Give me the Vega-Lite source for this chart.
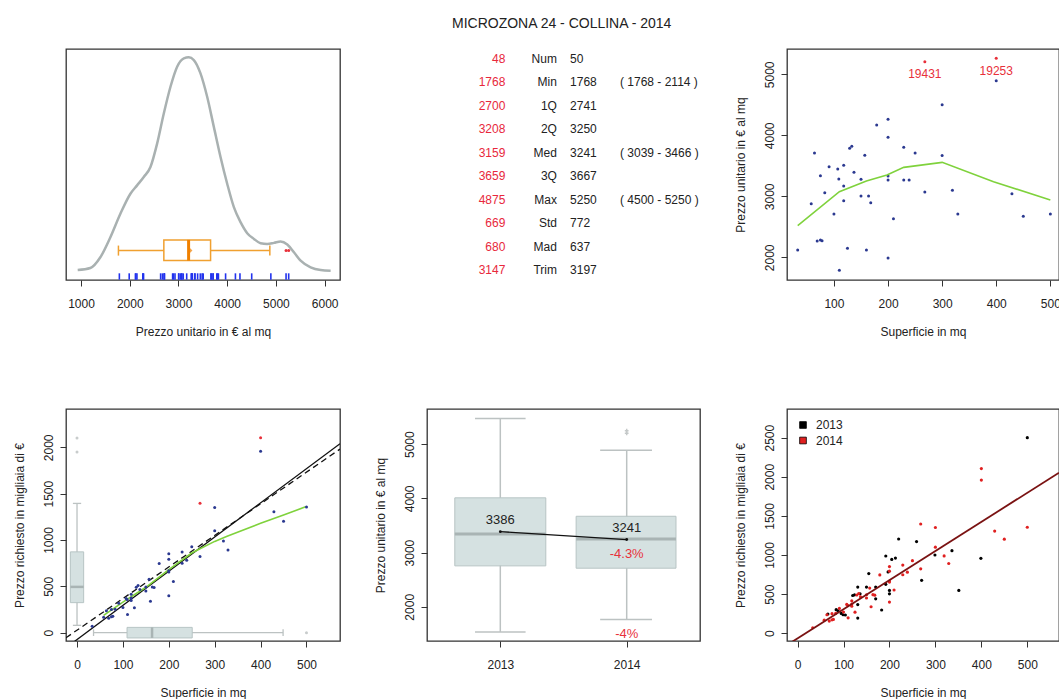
{
  "$schema": "https://vega.github.io/schema/vega-lite/v6.json",
  "background": "white",
  "padding": {"left": 12, "top": 17, "right": 0, "bottom": 0},
  "title": {"text": "MICROZONA 24 - COLLINA - 2014", "fontSize": 14, "fontWeight": "normal", "font": "Liberation Sans", "color": "#222", "anchor": "middle", "frame": "bounds", "dx": 25, "offset": 17},
  "datasets": {
    "pts14": [
      {"s": 33, "u": 2120, "t": 70, "out": "n"},
      {"s": 58, "u": 2880, "t": 167, "out": "n"},
      {"s": 64, "u": 3710, "t": 237, "out": "n"},
      {"s": 69, "u": 2268, "t": 156, "out": "n"},
      {"s": 75, "u": 2284, "t": 171, "out": "n"},
      {"s": 78, "u": 2273, "t": 177, "out": "n"},
      {"s": 75, "u": 3339, "t": 250, "out": "n"},
      {"s": 83, "u": 3060, "t": 254, "out": "n"},
      {"s": 91, "u": 3486, "t": 317, "out": "n"},
      {"s": 100, "u": 2710, "t": 271, "out": "n"},
      {"s": 107, "u": 3448, "t": 369, "out": "n"},
      {"s": 109, "u": 3284, "t": 358, "out": "n"},
      {"s": 110, "u": 1787, "t": 197, "out": "n"},
      {"s": 118, "u": 3508, "t": 414, "out": "n"},
      {"s": 118, "u": 3169, "t": 374, "out": "n"},
      {"s": 118, "u": 2929, "t": 346, "out": "n"},
      {"s": 125, "u": 2148, "t": 269, "out": "n"},
      {"s": 129, "u": 3787, "t": 489, "out": "n"},
      {"s": 133, "u": 3820, "t": 508, "out": "n"},
      {"s": 137, "u": 3393, "t": 465, "out": "n"},
      {"s": 150, "u": 3279, "t": 492, "out": "n"},
      {"s": 150, "u": 3005, "t": 451, "out": "n"},
      {"s": 157, "u": 3672, "t": 577, "out": "n"},
      {"s": 160, "u": 2120, "t": 339, "out": "n"},
      {"s": 164, "u": 3005, "t": 493, "out": "n"},
      {"s": 168, "u": 2896, "t": 487, "out": "n"},
      {"s": 179, "u": 4169, "t": 746, "out": "n"},
      {"s": 200, "u": 4262, "t": 852, "out": "n"},
      {"s": 200, "u": 3967, "t": 793, "out": "n"},
      {"s": 200, "u": 3333, "t": 667, "out": "n"},
      {"s": 200, "u": 3268, "t": 654, "out": "n"},
      {"s": 200, "u": 1989, "t": 398, "out": "n"},
      {"s": 210, "u": 2634, "t": 553, "out": "n"},
      {"s": 229, "u": 3803, "t": 871, "out": "n"},
      {"s": 229, "u": 3268, "t": 748, "out": "n"},
      {"s": 239, "u": 3268, "t": 781, "out": "n"},
      {"s": 250, "u": 3710, "t": 928, "out": "n"},
      {"s": 268, "u": 5208, "t": 1396, "out": "y", "id": "19431"},
      {"s": 268, "u": 3071, "t": 823, "out": "n"},
      {"s": 300, "u": 4503, "t": 1351, "out": "n"},
      {"s": 300, "u": 3667, "t": 1100, "out": "n"},
      {"s": 319, "u": 3098, "t": 988, "out": "n"},
      {"s": 329, "u": 2710, "t": 892, "out": "n"},
      {"s": 400, "u": 5262, "t": 2105, "out": "y", "id": "19253"},
      {"s": 400, "u": 4896, "t": 1958, "out": "n"},
      {"s": 429, "u": 3044, "t": 1306, "out": "n"},
      {"s": 450, "u": 2672, "t": 1202, "out": "n"},
      {"s": 500, "u": 2710, "t": 1355, "out": "n"}
    ],
    "pts13": [
      {"s": 66, "t": 246}, {"s": 84, "t": 301}, {"s": 88, "t": 288}, {"s": 95, "t": 254},
      {"s": 99, "t": 237}, {"s": 104, "t": 233}, {"s": 120, "t": 482}, {"s": 124, "t": 491},
      {"s": 131, "t": 590}, {"s": 131, "t": 366}, {"s": 131, "t": 194}, {"s": 136, "t": 504},
      {"s": 150, "t": 590}, {"s": 155, "t": 763}, {"s": 170, "t": 590}, {"s": 170, "t": 440},
      {"s": 183, "t": 297}, {"s": 192, "t": 987}, {"s": 192, "t": 625}, {"s": 197, "t": 784},
      {"s": 200, "t": 547}, {"s": 200, "t": 504}, {"s": 205, "t": 944}, {"s": 213, "t": 961},
      {"s": 220, "t": 1205}, {"s": 259, "t": 1172}, {"s": 270, "t": 676}, {"s": 299, "t": 1000},
      {"s": 336, "t": 1056}, {"s": 351, "t": 547}, {"s": 399, "t": 957}, {"s": 500, "t": 2500}
    ]
  },
  "columns": 3,
  "spacing": {"row": 129, "column": 87},
  "bounds": "flush",
  "align": "each",
  "resolve": {"scale": {"color": "independent"}, "legend": {"color": "independent"}},
  "concat": [
    {
      "width": 274,
      "height": 231,
      "layer": [
        {
          "data": {"values": [
            {"p": 932, "d": 2}, {"p": 1192, "d": 8}, {"p": 1397, "d": 40}, {"p": 1603, "d": 100},
            {"p": 1808, "d": 170}, {"p": 2014, "d": 230}, {"p": 2151, "d": 255}, {"p": 2288, "d": 280},
            {"p": 2425, "d": 310}, {"p": 2562, "d": 380}, {"p": 2699, "d": 470}, {"p": 2836, "d": 550},
            {"p": 2973, "d": 610}, {"p": 3110, "d": 635}, {"p": 3212, "d": 638}, {"p": 3315, "d": 630},
            {"p": 3452, "d": 590}, {"p": 3589, "d": 520}, {"p": 3726, "d": 430}, {"p": 3863, "d": 340},
            {"p": 4000, "d": 260}, {"p": 4137, "d": 190}, {"p": 4274, "d": 145}, {"p": 4411, "d": 112},
            {"p": 4548, "d": 95}, {"p": 4685, "d": 82}, {"p": 4822, "d": 80}, {"p": 4959, "d": 83},
            {"p": 5096, "d": 87}, {"p": 5233, "d": 78}, {"p": 5370, "d": 55}, {"p": 5507, "d": 30},
            {"p": 5712, "d": 10}, {"p": 5918, "d": 2}, {"p": 6123, "d": 0}
          ]},
          "mark": {"type": "line", "color": "#a9b1b1", "strokeWidth": 2.5, "interpolate": "monotone"},
          "encoding": {
            "x": {"field": "p", "type": "quantitative", "scale": {"domain": [692, 6315], "nice": false, "zero": false},
                  "axis": {"values": [1000, 2000, 3000, 4000, 5000, 6000], "format": "d", "title": "Prezzo unitario in € al mq"}},
            "y": {"field": "d", "type": "quantitative", "scale": {"domain": [-28, 663], "nice": false, "zero": false}, "axis": null}
          }
        },
        {
          "mark": {"type": "rule", "color": "#c2c6c6", "strokeWidth": 1},
          "encoding": {"y": {"datum": 0}}
        },
        {
          "data": {"name": "pts14"},
          "mark": {"type": "rule", "color": "#2233ee", "strokeWidth": 1.6},
          "encoding": {"x": {"field": "u", "type": "quantitative"}, "y": {"datum": -27}, "y2": {"datum": -8}}
        },
        {
          "data": {"values": [{"lo": 1768, "q1": 2700, "med": 3208, "q3": 3659, "hi": 4875, "mean": 3241}]},
          "layer": [
            {"mark": {"type": "rule", "color": "#f0a030", "strokeWidth": 1.5}, "encoding": {"x": {"field": "lo", "type": "quantitative"}, "x2": {"field": "q1"}, "y": {"datum": 60}}},
            {"mark": {"type": "rule", "color": "#f0a030", "strokeWidth": 1.5}, "encoding": {"x": {"field": "q3", "type": "quantitative"}, "x2": {"field": "hi"}, "y": {"datum": 60}}},
            {"mark": {"type": "rule", "color": "#f0a030", "strokeWidth": 1.5}, "encoding": {"x": {"field": "lo", "type": "quantitative"}, "y": {"datum": 45}, "y2": {"datum": 75}}},
            {"mark": {"type": "rule", "color": "#f0a030", "strokeWidth": 1.5}, "encoding": {"x": {"field": "hi", "type": "quantitative"}, "y": {"datum": 45}, "y2": {"datum": 75}}},
            {"mark": {"type": "rect", "fill": "transparent", "stroke": "#f0a030", "strokeWidth": 1.5}, "encoding": {"x": {"field": "q1", "type": "quantitative"}, "x2": {"field": "q3"}, "y": {"datum": 30}, "y2": {"datum": 92}}},
            {"mark": {"type": "rule", "color": "#f08000", "strokeWidth": 3}, "encoding": {"x": {"field": "med", "type": "quantitative"}, "y": {"datum": 30}, "y2": {"datum": 92}}},
            {"mark": {"type": "point", "filled": true, "color": "#f08000", "size": 20, "shape": "diamond"}, "encoding": {"x": {"field": "mean", "type": "quantitative"}, "y": {"datum": 60}}}
          ]
        },
        {
          "data": {"name": "pts14"},
          "transform": [{"filter": "datum.out == 'y'"}],
          "mark": {"type": "point", "filled": true, "color": "#e8303a", "size": 9, "opacity": 1},
          "encoding": {"x": {"field": "u", "type": "quantitative"}, "y": {"datum": 60}}
        }
      ]
    },
    {
      "width": 273,
      "height": 231,
      "view": {"stroke": null},
      "data": {"values": [
        {"k": "Num", "a": "48", "b": "50", "c": ""},
        {"k": "Min", "a": "1768", "b": "1768", "c": "( 1768 - 2114 )"},
        {"k": "1Q", "a": "2700", "b": "2741", "c": ""},
        {"k": "2Q", "a": "3208", "b": "3250", "c": ""},
        {"k": "Med", "a": "3159", "b": "3241", "c": "( 3039 - 3466 )"},
        {"k": "3Q", "a": "3659", "b": "3667", "c": ""},
        {"k": "Max", "a": "4875", "b": "5250", "c": "( 4500 - 5250 )"},
        {"k": "Std", "a": "669", "b": "772", "c": ""},
        {"k": "Mad", "a": "680", "b": "637", "c": ""},
        {"k": "Trim", "a": "3147", "b": "3197", "c": ""}
      ]},
      "encoding": {
        "y": {"field": "k", "type": "nominal", "sort": null, "scale": {"type": "point", "padding": 0.415}, "axis": null}
      },
      "layer": [
        {"mark": {"type": "text", "align": "right", "baseline": "middle", "fontSize": 12, "color": "#e8283c"},
         "encoding": {"x": {"datum": 0.287, "type": "quantitative", "scale": {"domain": [0, 1], "nice": false, "zero": false}, "axis": null}, "text": {"field": "a"}}},
        {"mark": {"type": "text", "align": "right", "baseline": "middle", "fontSize": 12, "color": "#222"},
         "encoding": {"x": {"datum": 0.476, "type": "quantitative"}, "text": {"field": "k"}}},
        {"mark": {"type": "text", "align": "left", "baseline": "middle", "fontSize": 12, "color": "#222"},
         "encoding": {"x": {"datum": 0.524, "type": "quantitative"}, "text": {"field": "b"}}},
        {"mark": {"type": "text", "align": "left", "baseline": "middle", "fontSize": 12, "color": "#222"},
         "encoding": {"x": {"datum": 0.707, "type": "quantitative"}, "text": {"field": "c"}}}
      ]
    },
    {
      "width": 272,
      "height": 231,
      "layer": [
        {
          "data": {"name": "pts14"},
          "transform": [{"filter": "datum.out == 'n'"}],
          "mark": {"type": "point", "filled": true, "color": "#2b3990", "size": 9, "opacity": 1},
          "encoding": {
            "x": {"field": "s", "type": "quantitative", "scale": {"domain": [13.2, 516], "nice": false, "zero": false},
                  "axis": {"values": [100, 200, 300, 400, 500], "format": "d", "title": "Superficie in mq"}},
            "y": {"field": "u", "type": "quantitative", "scale": {"domain": [1628, 5415], "nice": false, "zero": false},
                  "axis": {"values": [2000, 2500, 3000, 3500, 4000, 4500, 5000], "format": "d", "labelExpr": "datum.value % 1000 == 0 ? datum.label : ''", "title": "Prezzo unitario in € al mq"}}
          }
        },
        {
          "mark": {"type": "rule", "color": "#222", "strokeWidth": 1.2},
          "encoding": {"y": {"datum": 3250}}
        },
        {
          "data": {"values": [
            {"s": 33, "u": 2519}, {"s": 110, "u": 3076}, {"s": 160, "u": 3251}, {"s": 198, "u": 3350},
            {"s": 229, "u": 3475}, {"s": 300, "u": 3557}, {"s": 395, "u": 3240}, {"s": 500, "u": 2940}
          ]},
          "mark": {"type": "line", "color": "#7fd23c", "strokeWidth": 1.6},
          "encoding": {"x": {"field": "s", "type": "quantitative"}, "y": {"field": "u", "type": "quantitative"}}
        },
        {
          "data": {"name": "pts14"},
          "transform": [{"filter": "datum.out == 'y'"}],
          "layer": [
            {"mark": {"type": "point", "filled": true, "color": "#e8303a", "size": 9, "opacity": 1},
             "encoding": {"x": {"field": "s", "type": "quantitative"}, "y": {"field": "u", "type": "quantitative"}}},
            {"mark": {"type": "text", "color": "#e8303a", "fontSize": 12, "baseline": "middle", "dy": 12.5},
             "encoding": {"x": {"field": "s", "type": "quantitative"}, "y": {"field": "u", "type": "quantitative"}, "text": {"field": "id"}}}
          ]
        }
      ]
    },
    {
      "width": 274,
      "height": 232,
      "layer": [
        {
          "data": {"values": [{"lo": 79, "q1": 324, "med": 494, "q3": 872, "hi": 1395, "bl": -14.5, "br": 14.5, "cl": -9, "cr": 9}]},
          "layer": [
            {"mark": {"type": "rule", "color": "#bcc2c2", "strokeWidth": 1.3},
             "encoding": {"x": {"datum": 0, "type": "quantitative", "scale": {"domain": [-24, 573], "nice": false, "zero": false},
                                "axis": {"values": [0, 100, 200, 300, 400, 500], "format": "d", "title": "Superficie in mq"}},
                          "y": {"field": "lo", "type": "quantitative", "scale": {"domain": [-90, 2414], "nice": false, "zero": false},
                                "axis": {"values": [0, 500, 1000, 1500, 2000], "format": "d", "title": "Prezzo richiesto in migliaia di €"}},
                          "y2": {"field": "hi"}}},
            {"mark": {"type": "rule", "color": "#bcc2c2", "strokeWidth": 1.3},
             "encoding": {"x": {"field": "cl", "type": "quantitative"}, "x2": {"field": "cr"}, "y": {"field": "lo", "type": "quantitative"}}},
            {"mark": {"type": "rule", "color": "#bcc2c2", "strokeWidth": 1.3},
             "encoding": {"x": {"field": "cl", "type": "quantitative"}, "x2": {"field": "cr"}, "y": {"field": "hi", "type": "quantitative"}}},
            {"mark": {"type": "rect", "fill": "#d5e1e1", "stroke": "#b7c4c4", "strokeWidth": 1},
             "encoding": {"x": {"field": "bl", "type": "quantitative"}, "x2": {"field": "br"}, "y": {"field": "q1", "type": "quantitative"}, "y2": {"field": "q3"}}},
            {"mark": {"type": "rule", "color": "#a9b4b4", "strokeWidth": 2.5},
             "encoding": {"x": {"field": "bl", "type": "quantitative"}, "x2": {"field": "br"}, "y": {"field": "med", "type": "quantitative"}}}
          ]
        },
        {
          "data": {"values": [{"lo": 36, "q1": 109, "med": 163.5, "q3": 251, "hi": 449, "bb": -57, "bt": 57, "cb": -36, "ct": 36}]},
          "layer": [
            {"mark": {"type": "rule", "color": "#bcc2c2", "strokeWidth": 1.3},
             "encoding": {"x": {"field": "lo", "type": "quantitative"}, "x2": {"field": "hi"}, "y": {"datum": 0}}},
            {"mark": {"type": "rule", "color": "#bcc2c2", "strokeWidth": 1.3},
             "encoding": {"x": {"field": "lo", "type": "quantitative"}, "y": {"field": "cb", "type": "quantitative"}, "y2": {"field": "ct"}}},
            {"mark": {"type": "rule", "color": "#bcc2c2", "strokeWidth": 1.3},
             "encoding": {"x": {"field": "hi", "type": "quantitative"}, "y": {"field": "cb", "type": "quantitative"}, "y2": {"field": "ct"}}},
            {"mark": {"type": "rect", "fill": "#d5e1e1", "stroke": "#b7c4c4", "strokeWidth": 1},
             "encoding": {"x": {"field": "q1", "type": "quantitative"}, "x2": {"field": "q3"}, "y": {"field": "bb", "type": "quantitative"}, "y2": {"field": "bt"}}},
            {"mark": {"type": "rule", "color": "#a9b4b4", "strokeWidth": 2.5},
             "encoding": {"x": {"field": "med", "type": "quantitative"}, "y": {"field": "bb", "type": "quantitative"}, "y2": {"field": "bt"}}}
          ]
        },
        {
          "data": {"values": [{"s": 0, "t": 2100}, {"s": 0, "t": 1950}, {"s": 500, "t": 0}]},
          "mark": {"type": "point", "filled": true, "color": "#c8cccc", "size": 9, "opacity": 1},
          "encoding": {"x": {"field": "s", "type": "quantitative"}, "y": {"field": "t", "type": "quantitative"}}
        },
        {
          "data": {"values": [{"s": -24, "t": -163}, {"s": 573, "t": 2040}]},
          "mark": {"type": "line", "color": "#111", "strokeWidth": 1.3, "clip": true},
          "encoding": {"x": {"field": "s", "type": "quantitative"}, "y": {"field": "t", "type": "quantitative"}}
        },
        {
          "data": {"values": [{"s": -24, "t": -55}, {"s": 573, "t": 1981}]},
          "mark": {"type": "line", "color": "#111", "strokeWidth": 1.3, "strokeDash": [6, 4], "clip": true},
          "encoding": {"x": {"field": "s", "type": "quantitative"}, "y": {"field": "t", "type": "quantitative"}}
        },
        {
          "data": {"values": [
            {"s": 58, "t": 187}, {"s": 100, "t": 330}, {"s": 150, "t": 490}, {"s": 200, "t": 680},
            {"s": 250, "t": 860}, {"s": 269, "t": 908}, {"s": 300, "t": 985}, {"s": 327, "t": 1041},
            {"s": 400, "t": 1180}, {"s": 450, "t": 1270}, {"s": 498, "t": 1358}
          ]},
          "mark": {"type": "line", "color": "#7fd23c", "strokeWidth": 1.6},
          "encoding": {"x": {"field": "s", "type": "quantitative"}, "y": {"field": "t", "type": "quantitative"}}
        },
        {
          "data": {"name": "pts14"},
          "transform": [{"filter": "datum.out == 'n'"}],
          "mark": {"type": "point", "filled": true, "size": 9, "opacity": 1, "color": "#2b3990"},
          "encoding": {"x": {"field": "s", "type": "quantitative"}, "y": {"field": "t", "type": "quantitative"}}
        },
        {
          "data": {"name": "pts14"},
          "transform": [{"filter": "datum.out == 'y'"}],
          "mark": {"type": "point", "filled": true, "size": 9, "opacity": 1, "color": "#e8303a"},
          "encoding": {"x": {"field": "s", "type": "quantitative"}, "y": {"field": "t", "type": "quantitative"}}
        }
      ]
    },
    {
      "width": 273,
      "height": 232,
      "layer": [
        {
          "data": {"values": [
            {"yr": 1, "lo": 1537, "q1": 2755, "med": 3343, "q3": 4010, "hi": 5476, "bl": 0.64, "br": 1.36, "cl": 0.8, "cr": 1.2},
            {"yr": 2, "lo": 1766, "q1": 2712, "med": 3250, "q3": 3670, "hi": 4889, "bl": 1.6, "br": 2.39, "cl": 1.79, "cr": 2.2}
          ]},
          "layer": [
            {"mark": {"type": "rule", "color": "#bcc2c2", "strokeWidth": 1.5},
             "encoding": {"x": {"field": "yr", "type": "quantitative", "scale": {"domain": [0.42, 2.58], "nice": false, "zero": false},
                                "axis": {"values": [1, 2], "labelExpr": "datum.value == 1 ? '2013' : '2014'", "title": null}},
                          "y": {"field": "lo", "type": "quantitative", "scale": {"domain": [1369, 5649], "nice": false, "zero": false},
                                "axis": {"values": [2000, 3000, 4000, 5000], "format": "d", "title": "Prezzo unitario in € al mq"}},
                          "y2": {"field": "hi"}}},
            {"mark": {"type": "rule", "color": "#bcc2c2", "strokeWidth": 1.5},
             "encoding": {"x": {"field": "cl", "type": "quantitative"}, "x2": {"field": "cr"}, "y": {"field": "lo", "type": "quantitative"}}},
            {"mark": {"type": "rule", "color": "#bcc2c2", "strokeWidth": 1.5},
             "encoding": {"x": {"field": "cl", "type": "quantitative"}, "x2": {"field": "cr"}, "y": {"field": "hi", "type": "quantitative"}}},
            {"mark": {"type": "rect", "fill": "#d5e1e1", "stroke": "#b7c4c4", "strokeWidth": 1},
             "encoding": {"x": {"field": "bl", "type": "quantitative"}, "x2": {"field": "br"}, "y": {"field": "q1", "type": "quantitative"}, "y2": {"field": "q3"}}},
            {"mark": {"type": "rule", "color": "#a9b4b4", "strokeWidth": 3},
             "encoding": {"x": {"field": "bl", "type": "quantitative"}, "x2": {"field": "br"}, "y": {"field": "med", "type": "quantitative"}}}
          ]
        },
        {
          "data": {"values": [{"yr": 2, "v": 5200}, {"yr": 2, "v": 5250}]},
          "mark": {"type": "point", "shape": "cross", "filled": true, "color": "#c4c8c8", "size": 14, "opacity": 1},
          "encoding": {"x": {"field": "yr", "type": "quantitative"}, "y": {"field": "v", "type": "quantitative"}}
        },
        {
          "data": {"values": [{"yr": 1, "m": 3386, "lab": "3386", "pct": ""}, {"yr": 2, "m": 3241, "lab": "3241", "pct": "-4.3%"}]},
          "layer": [
            {"mark": {"type": "line", "color": "#111", "strokeWidth": 1.3, "point": {"filled": true, "color": "#111", "size": 8}},
             "encoding": {"x": {"field": "yr", "type": "quantitative"}, "y": {"field": "m", "type": "quantitative"}}},
            {"mark": {"type": "text", "color": "#222", "fontSize": 13, "baseline": "middle", "dy": -12},
             "encoding": {"x": {"field": "yr", "type": "quantitative"}, "y": {"field": "m", "type": "quantitative"}, "text": {"field": "lab"}}},
            {"mark": {"type": "text", "color": "#e8303a", "fontSize": 13, "baseline": "middle", "dy": 14},
             "encoding": {"x": {"field": "yr", "type": "quantitative"}, "y": {"field": "m", "type": "quantitative"}, "text": {"field": "pct"}}}
          ]
        },
        {
          "data": {"values": [{"yr": 2, "v": 1494, "lab": "-4%"}]},
          "mark": {"type": "text", "color": "#e8303a", "fontSize": 13, "baseline": "middle"},
          "encoding": {"x": {"field": "yr", "type": "quantitative"}, "y": {"field": "v", "type": "quantitative"}, "text": {"field": "lab"}}
        }
      ]
    },
    {
      "width": 272,
      "height": 232,
      "layer": [
        {
          "data": {"name": "pts13"},
          "mark": {"type": "point", "filled": true, "size": 10, "opacity": 1},
          "encoding": {
            "x": {"field": "s", "type": "quantitative", "scale": {"domain": [-23, 569], "nice": false, "zero": false},
                  "axis": {"values": [0, 100, 200, 300, 400, 500], "format": "d", "title": "Superficie in mq"}},
            "y": {"field": "t", "type": "quantitative", "scale": {"domain": [-99, 2866], "nice": false, "zero": false},
                  "axis": {"values": [0, 500, 1000, 1500, 2000, 2500], "format": "d", "title": "Prezzo richiesto in migliaia di €"}},
            "color": {"datum": "2013", "type": "nominal", "scale": {"domain": ["2013", "2014"], "range": ["#000000", "#e02020"]},
                      "legend": {"orient": "top-left", "offset": 10, "title": null, "symbolType": "square", "symbolSize": 45,
                                 "symbolStrokeColor": "#000", "symbolStrokeWidth": 0.8, "labelFontSize": 12, "labelColor": "#222",
                                 "labelOffset": 7, "rowPadding": 3.5, "padding": 0}}
          }
        },
        {
          "data": {"name": "pts14"},
          "mark": {"type": "point", "filled": true, "size": 10, "opacity": 1},
          "encoding": {
            "x": {"field": "s", "type": "quantitative"},
            "y": {"field": "t", "type": "quantitative"},
            "color": {"datum": "2014", "type": "nominal"}
          }
        },
        {
          "data": {"values": [{"s": -23, "t": -151}, {"s": 569, "t": 2052}]},
          "mark": {"type": "line", "color": "#7a1212", "strokeWidth": 1.8, "clip": true},
          "encoding": {"x": {"field": "s", "type": "quantitative"}, "y": {"field": "t", "type": "quantitative"}}
        }
      ]
    }
  ],
  "config": {
    "font": "Liberation Sans",
    "view": {"stroke": "#333", "strokeWidth": 1.3},
    "axis": {
      "domain": false, "grid": false, "tickColor": "#333", "tickSize": 6, "tickWidth": 1,
      "labelFont": "Liberation Sans", "titleFont": "Liberation Sans", "labelFontSize": 12, "titleFontSize": 12,
      "titleFontWeight": "normal", "labelColor": "#222", "titleColor": "#222", "labelOverlap": false, "labelFlush": false
    },
    "axisX": {"labelPadding": 12, "titlePadding": 17},
    "axisY": {"labelAngle": -90, "labelPadding": 5, "titlePadding": 16}
  }
}
